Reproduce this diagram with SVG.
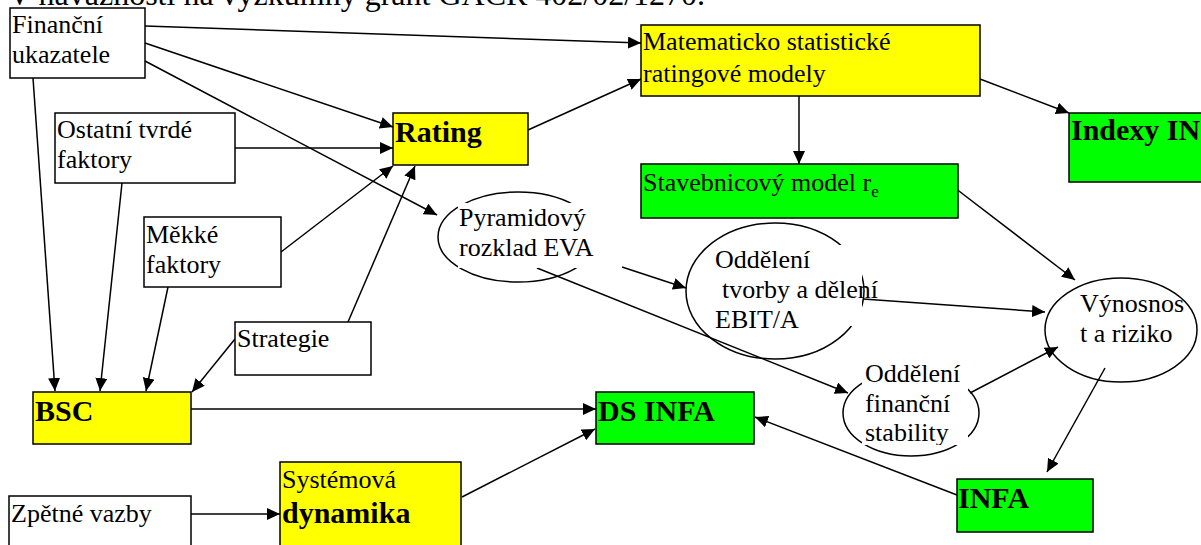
<svg xmlns="http://www.w3.org/2000/svg" width="1201" height="545" viewBox="0 0 1201 545">
<style>
.t{font-family:"Liberation Serif","Times New Roman",serif;font-size:26px;fill:#000}
.b{font-family:"Liberation Serif","Times New Roman",serif;font-size:30px;font-weight:bold;fill:#000}
.box{stroke:#000;stroke-width:1.5}
.w{fill:#fff}
.y{fill:#ffff00}
.g{fill:#00ff00}
.el{fill:none;stroke:#000;stroke-width:1.5}
.c line{stroke:#000;stroke-width:1.5;marker-end:url(#ah)}
</style>
<defs>
<marker id="ah" markerUnits="userSpaceOnUse" markerWidth="14" markerHeight="12" refX="13" refY="6" orient="auto">
<path d="M0,0 L13,6 L0,12 z" fill="#000"/>
</marker>
<clipPath id="clipFin"><rect x="860" y="355" width="120" height="90"/></clipPath>
</defs>
<rect width="1201" height="545" fill="#fff"/>
<text class="t" x="8" y="5" style="font-size:32px">V návaznosti na výzkumný grant GAČR 402/02/1270.</text>

<g id="connectors" class="c">
<line x1="145" y1="26" x2="641" y2="43"/>
<line x1="145" y1="43" x2="393" y2="127"/>
<line x1="145" y1="61" x2="437" y2="215"/>
<line x1="33" y1="78" x2="55" y2="391"/>
<line x1="235" y1="148" x2="393" y2="148"/>
<line x1="122" y1="183" x2="100" y2="391"/>
<line x1="281" y1="252" x2="393" y2="166"/>
<line x1="168" y1="287" x2="146" y2="391"/>
<line x1="348" y1="322" x2="415" y2="166"/>
<line x1="235" y1="339" x2="192" y2="392"/>
<line x1="528" y1="130" x2="641" y2="79"/>
<line x1="980" y1="79" x2="1069" y2="113"/>
<line x1="799" y1="96" x2="799" y2="164"/>
<line x1="622" y1="267" x2="686" y2="288"/>
<line x1="537" y1="268" x2="848" y2="393"/>
<line x1="955" y1="188" x2="1075" y2="280"/>
<line x1="863" y1="299" x2="1045" y2="312"/>
<line x1="970" y1="393" x2="1058" y2="347"/>
<line x1="1105" y1="368" x2="1047" y2="472"/>
<line x1="957" y1="495" x2="755" y2="417"/>
<line x1="191" y1="409" x2="596" y2="409"/>
<line x1="462" y1="497" x2="595" y2="429"/>
<line x1="191" y1="514" x2="280" y2="514"/>
</g>

<g id="financni">
<rect class="box w" x="10" y="8" width="135" height="70"/>
<text class="t" x="12" y="33">Finanční</text>
<text class="t" x="12" y="63">ukazatele</text>
</g>
<g id="ostatni">
<rect class="box w" x="55" y="113" width="180" height="70"/>
<text class="t" x="57" y="138">Ostatní tvrdé</text>
<text class="t" x="57" y="168">faktory</text>
</g>
<g id="mekke">
<rect class="box w" x="144" y="217" width="137" height="70"/>
<text class="t" x="146" y="243">Měkké</text>
<text class="t" x="146" y="273">faktory</text>
</g>
<g id="strategie">
<rect class="box w" x="235" y="322" width="136" height="53"/>
<text class="t" x="237" y="347">Strategie</text>
</g>
<g id="rating">
<rect class="box y" x="393" y="113" width="135" height="52"/>
<text class="b" x="395" y="142">Rating</text>
</g>
<g id="matematicko">
<rect class="box y" x="641" y="25" width="339" height="71"/>
<text class="t" x="643" y="50">Matematicko statistické</text>
<text class="t" x="643" y="82">ratingové modely</text>
</g>
<g id="indexy">
<rect class="box g" x="1069" y="113" width="134" height="69"/>
<text class="b" x="1071" y="140">Indexy IN</text>
</g>
<g id="stavebnicovy">
<rect class="box g" x="641" y="164" width="317" height="54"/>
<text class="t" x="643" y="191">Stavebnicový model r<tspan style="font-size:17px" dy="6">e</tspan></text>
</g>
<g id="pyramidovy">
<ellipse class="el" cx="518" cy="237" rx="80" ry="45"/>
<rect class="w" x="458" y="203" width="164" height="65"/>
<text class="t" x="459" y="226">Pyramidový</text>
<text class="t" x="459" y="256">rozklad EVA</text>
</g>
<g id="tvorby">
<ellipse class="el" cx="775" cy="291" rx="89" ry="68"/>
<rect class="w" x="714" y="245" width="148" height="81"/>
<text class="t" x="715" y="268">Oddělení</text>
<text class="t" x="722" y="298">tvorby a dělení</text>
<text class="t" x="715" y="328">EBIT/A</text>
</g>
<g id="financni-stabilita">
<ellipse class="el" cx="911" cy="413" rx="68" ry="43"/>
<rect class="w" x="862" y="358" width="106" height="87"/>
<g clip-path="url(#clipFin)">
<text class="t" x="865" y="382">Oddělení</text>
<text class="t" x="865" y="412">finanční</text>
<text class="t" x="865" y="441">stability</text>
</g>
</g>
<g id="vynosnost">
<ellipse class="el" cx="1121" cy="330" rx="76" ry="52"/>
<text class="t" x="1080" y="312">Výnosnos</text>
<text class="t" x="1080" y="342">t a riziko</text>
</g>
<g id="bsc">
<rect class="box y" x="33" y="392" width="158" height="52"/>
<text class="b" x="35" y="421">BSC</text>
</g>
<g id="dsinfa">
<rect class="box g" x="596" y="392" width="158" height="52"/>
<text class="b" x="598" y="421">DS INFA</text>
</g>
<g id="infa">
<rect class="box g" x="957" y="479" width="136" height="53"/>
<text class="b" x="958" y="508">INFA</text>
</g>
<g id="systemova">
<rect class="box y" x="280" y="462" width="181" height="100"/>
<text class="t" x="282" y="488">Systémová</text>
<text class="b" x="282" y="523">dynamika</text>
</g>
<g id="zpetne">
<rect class="box w" x="9" y="496" width="182" height="70"/>
<text class="t" x="11" y="522">Zpětné vazby</text>
</g>
</svg>
